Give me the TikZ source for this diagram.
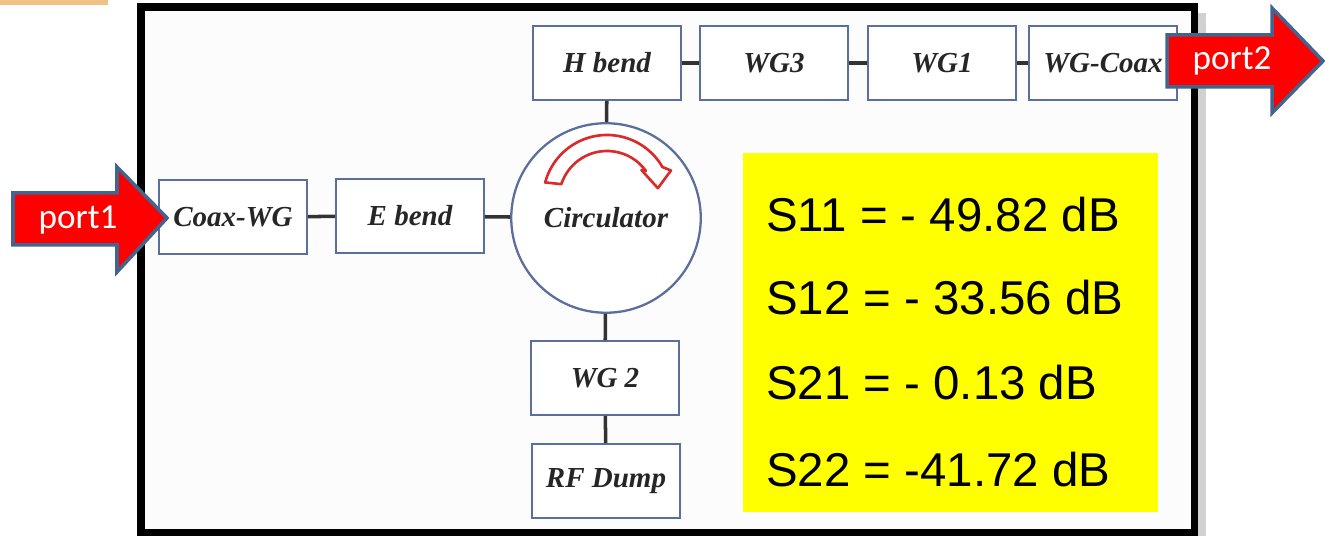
\documentclass[tikz,border=0pt]{standalone}
\usepackage{fontspec}
\setsansfont{Liberation Sans}
\newfontfamily\portfont{Carlito}
\newfontfamily\boxfont{Liberation Serif}
\definecolor{boxblue}{HTML}{5B6E9E}
\definecolor{portblue}{HTML}{41658F}
\definecolor{arcred}{HTML}{D92B2B}
\definecolor{stripe}{HTML}{F1C286}
\definecolor{sfill}{HTML}{FFFF00}
\begin{document}
\begin{tikzpicture}[line width=.4mm,
    box/.style={draw=boxblue,fill=white,line width=1.3pt,minimum width=2.95cm,minimum height=1.47cm,
      inner sep=0pt,font=\boxfont\fontsize{16.5}{19}\selectfont\bfseries\itshape,text=black!85},
    conn/.style={draw=black!80,line width=2pt},
    portarrow/.style={draw=portblue,fill=red,line width=2pt,line join=miter},
    porttext/.style={text=white,font=\portfont\fontsize{20}{24}\selectfont},
    sval/.style={anchor=west,inner sep=0pt,font=\sffamily\fontsize{27}{32}\selectfont}]

   \useasboundingbox (0,0) rectangle (26.5,10.72);
   \fill[stripe] (0,10.72) rectangle (2.16,10.62);

   % outer frame
   \fill[black!18] (23.95,0) rectangle (24.12,10.45);
   \draw[line width=4pt,fill=white!99!black] (2.82,0.06) rectangle (23.88,10.58);

     \path (4.66,6.38) node[box] (coaxwg)  {Coax-WG};
     \path (8.20,6.40) node[box] (ebend)  {E bend};
     \path (12.12,6.36) node[box,shape=circle,minimum size=3.79cm] (circ)  {Circulator};
     \path (12.14,9.46) node[box] (hbend)  {H bend};
     \path (15.48,9.46) node[box] (wg3)  {WG3};
     \path (18.84,9.46) node[box] (wg1)  {WG1};
     \path (22.06,9.46) node[box] (wgcoax)  {WG-Coax};
     \path (12.10,3.16) node[box] (wg2)  {WG 2};
     \path (12.12,1.10) node[box] (rfdump)  {RF Dump};

      \draw[conn] (coaxwg)  -- (ebend);
      \draw[conn] (ebend)  -- (circ);
      \draw[conn] (circ)  -- (hbend);
      \draw[conn] (hbend)  -- (wg3);
      \draw[conn] (wg3)  -- (wg1);
      \draw[conn] (wg1)  -- (wgcoax);
      \draw[conn] (circ)  -- (wg2);
      \draw[conn] (wg2)  -- (rfdump);

   % rotation arrow of the circulator
   \coordinate (arcc) at (12.14,6.74);
   \draw[arcred,fill=white,line width=1.5pt,line join=round]
      (arcc) ++(165:1.28) arc[start angle=165,end angle=30,radius=1.28]
      -- ([shift={(24:1.40)}]arcc) -- ([shift={(12:1.04)}]arcc)
      -- ([shift={(40:0.9)}]arcc) -- ([shift={(36:0.96)}]arcc)
      arc[start angle=36,end angle=162,radius=0.96] -- cycle;

   % S parameters
   \fill[sfill] (14.86,0.48) rectangle (23.16,7.66);
     \path (15.30,6.42) node[sval] (s11) {S11 = - 49.82 dB};
     \path (15.30,4.76) node[sval] (s12) {S12 = - 33.56 dB};
     \path (15.30,3.06) node[sval] (s21) {S21 = - 0.13 dB};
     \path (15.30,1.32) node[sval] (s22) {S22 = -41.72 dB};

   % ports
   \draw[portarrow] (0.26,6.86) -- (2.34,6.86) -- (2.34,7.38) -- (3.34,6.36)
      -- (2.34,5.28) -- (2.34,5.82) -- (0.26,5.82) -- cycle;
     \path (1.56,6.32) node[porttext] (port1) {port1};
   \draw[portarrow] (23.34,10.02) -- (25.44,10.02) -- (25.44,10.56) -- (26.46,9.50)
      -- (25.44,8.46) -- (25.44,8.98) -- (23.34,8.98) -- cycle;
     \path (24.64,9.50) node[porttext] (port2) {port2};

\end{tikzpicture}
\end{document}
